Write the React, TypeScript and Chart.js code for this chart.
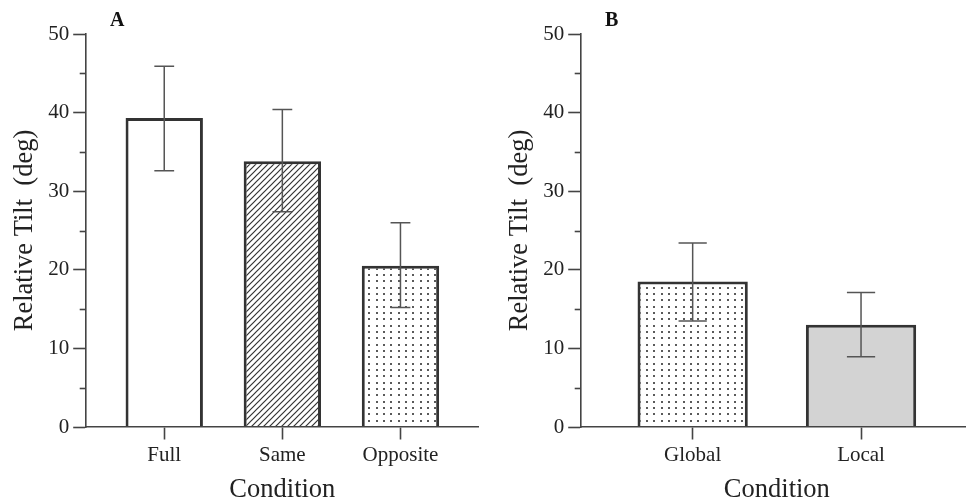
import React, { useEffect, useRef } from 'react';
import { Chart, registerables } from 'chart.js';

Chart.register(...registerables);

// ---------- data ----------
const panelALabels = ['Full', 'Same', 'Opposite'];
const panelAMeans = [39.3, 33.8, 20.5];
const panelAUpper = [45.9, 40.4, 26.0];
const panelALower = [32.6, 27.4, 15.2];

const panelBLabels = ['Global', 'Local'];
const panelBMeans = [18.5, 13.0];
const panelBUpper = [23.4, 17.1];
const panelBLower = [13.5, 8.95];

const yMajorTicks = [0, 10, 20, 30, 40, 50];
const yMinorTicks = [5, 15, 25, 35, 45];

// ---------- style ----------
const FONT = '"Liberation Serif", "Times New Roman", serif';
const TEXT = '#222';
const AXIS = '#444';
const BAR_BORDER = '#333';

function makeHatch(): CanvasPattern | string {
  const c = document.createElement('canvas');
  c.width = 6;
  c.height = 6;
  const g = c.getContext('2d');
  if (!g) return '#fff';
  g.fillStyle = '#fff';
  g.fillRect(0, 0, 6, 6);
  g.strokeStyle = '#333';
  g.lineWidth = 1.2;
  g.beginPath();
  g.moveTo(-1, 7);
  g.lineTo(7, -1);
  g.moveTo(-1, 1);
  g.lineTo(1, -1);
  g.moveTo(5, 7);
  g.lineTo(7, 5);
  g.stroke();
  return g.createPattern(c, 'repeat') || '#fff';
}

function makeDots(): CanvasPattern | string {
  const c = document.createElement('canvas');
  c.width = 22;
  c.height = 19;
  const g = c.getContext('2d');
  if (!g) return '#fff';
  g.fillStyle = '#fff';
  g.fillRect(0, 0, 22, 19);
  g.fillStyle = '#5a5a5a';
  [2, 9, 16].forEach((x) => {
    [2, 8, 14].forEach((y) => {
      g.fillRect(x, y, 2, 2);
    });
  });
  return g.createPattern(c, 'repeat') || '#fff';
}

type PanelProps = {
  left: number;
  width: number;
  padLeft: number;
  letter: string;
  labels: string[];
  means: number[];
  upper: number[];
  lower: number[];
  fills: string[];
};

function Panel({ left, width, padLeft, letter, labels, means, upper, lower, fills }: PanelProps) {
  const ref = useRef<HTMLCanvasElement>(null);

  useEffect(() => {
    if (!ref.current) return;
    const bg = fills.map((f) => (f === 'hatch' ? makeHatch() : f === 'dots' ? makeDots() : f));
    const n = labels.length;

    const extras = {
      id: 'extras_' + letter,
      afterDatasetsDraw(chart: any) {
        const ctx = chart.ctx;
        const ys = chart.scales.y;
        const meta = chart.getDatasetMeta(0);
        ctx.save();
        ctx.strokeStyle = '#555';
        ctx.lineWidth = 1.5;
        meta.data.forEach((el: any, i: number) => {
          const x = el.x;
          const half = el.width * 0.128;
          const yt = ys.getPixelForValue(upper[i]);
          const yb = ys.getPixelForValue(lower[i]);
          ctx.beginPath();
          ctx.moveTo(x, yt);
          ctx.lineTo(x, yb);
          ctx.moveTo(x - half, yt);
          ctx.lineTo(x + half, yt);
          ctx.moveTo(x - half, yb);
          ctx.lineTo(x + half, yb);
          ctx.stroke();
        });
        ctx.restore();
      },
      afterDraw(chart: any) {
        const ctx = chart.ctx;
        const ys = chart.scales.y;
        const area = chart.chartArea;
        ctx.save();
        ctx.strokeStyle = AXIS;
        ctx.lineWidth = 1.6;
        yMinorTicks.forEach((v) => {
          const py = Math.round(ys.getPixelForValue(v)) + 0.5;
          ctx.beginPath();
          ctx.moveTo(area.left - 6, py);
          ctx.lineTo(area.left, py);
          ctx.stroke();
        });
        ctx.fillStyle = '#111';
        ctx.font = 'bold 20px ' + FONT;
        ctx.textBaseline = 'alphabetic';
        ctx.textAlign = 'left';
        ctx.fillText(letter, area.left + 24.3, 25.7);
        ctx.restore();
      },
    };

    const chart = new Chart(ref.current, {
      type: 'bar',
      data: {
        datasets: [
          {
            data: means.map((m, i) => ({ x: i + 1, y: m })),
            backgroundColor: bg as any,
            borderColor: BAR_BORDER,
            borderWidth: 3,
            borderSkipped: 'start',
            barPercentage: 0.655,
            categoryPercentage: 1,
          } as any,
        ],
      },
      options: {
        responsive: false,
        animation: false,
        layout: { padding: { left: padLeft, top: 34, right: 0, bottom: 0 } },
        plugins: { legend: { display: false }, tooltip: { enabled: false } },
        scales: {
          x: {
            type: 'linear',
            offset: false,
            min: 0.335,
            max: n + 0.665,
            afterBuildTicks: (s: any) => {
              s.ticks = labels.map((_, i) => ({ value: i + 1 }));
            },
            afterFit: (s: any) => {
              s.height = 77;
            },
            ticks: {
              callback: (v: any) => labels[Math.round(Number(v)) - 1] ?? '',
              font: { family: FONT, size: 21 },
              color: TEXT,
              padding: 3.5,
              maxRotation: 0,
              autoSkip: false,
            },
            grid: {
              offset: false,
              drawOnChartArea: false,
              drawTicks: true,
              tickLength: 12.5,
              tickColor: AXIS,
              tickWidth: 1.6,
            },
            border: { display: true, color: AXIS, width: 1.6, z: 1 },
            title: {
              display: true,
              text: 'Condition',
              font: { family: FONT, size: 26.5 },
              color: TEXT,
              padding: { top: 0, bottom: -2.3 },
            },
          },
          y: {
            min: 0,
            max: 50,
            afterBuildTicks: (s: any) => {
              s.ticks = yMajorTicks.map((v) => ({ value: v }));
            },
            afterFit: (s: any) => {
              s.width = 85.7;
            },
            ticks: {
              font: { family: FONT, size: 21 },
              color: TEXT,
              padding: 4,
            },
            grid: {
              drawOnChartArea: false,
              drawTicks: true,
              tickLength: 12.5,
              tickColor: AXIS,
              tickWidth: 1.6,
            },
            border: { display: true, color: AXIS, width: 1.6 },
            title: {
              display: true,
              text: 'Relative Tilt  (deg)',
              font: { family: FONT, size: 26.5 },
              color: TEXT,
              padding: { top: 9.1, bottom: 0 },
            },
          },
        },
      } as any,
      plugins: [extras],
    });
    return () => chart.destroy();
  }, []);

  return (
    <div style={{ position: 'absolute', left, top: 0, width, height: 504 }}>
      <canvas ref={ref} width={width} height={504} style={{ display: 'block' }} />
    </div>
  );
}

export default function App() {
  return (
    <div
      style={{
        position: 'absolute',
        left: 0,
        top: 0,
        width: 966,
        height: 504,
        overflow: 'hidden',
        background: '#fff',
      }}
    >
      <Panel
        left={0}
        width={479}
        padLeft={0}
        letter="A"
        labels={panelALabels}
        means={panelAMeans}
        upper={panelAUpper}
        lower={panelALower}
        fills={['#ffffff', 'hatch', 'dots']}
      />
      <Panel
        left={483}
        width={490}
        padLeft={12}
        letter="B"
        labels={panelBLabels}
        means={panelBMeans}
        upper={panelBUpper}
        lower={panelBLower}
        fills={['dots', '#d3d3d3']}
      />
    </div>
  );
}
